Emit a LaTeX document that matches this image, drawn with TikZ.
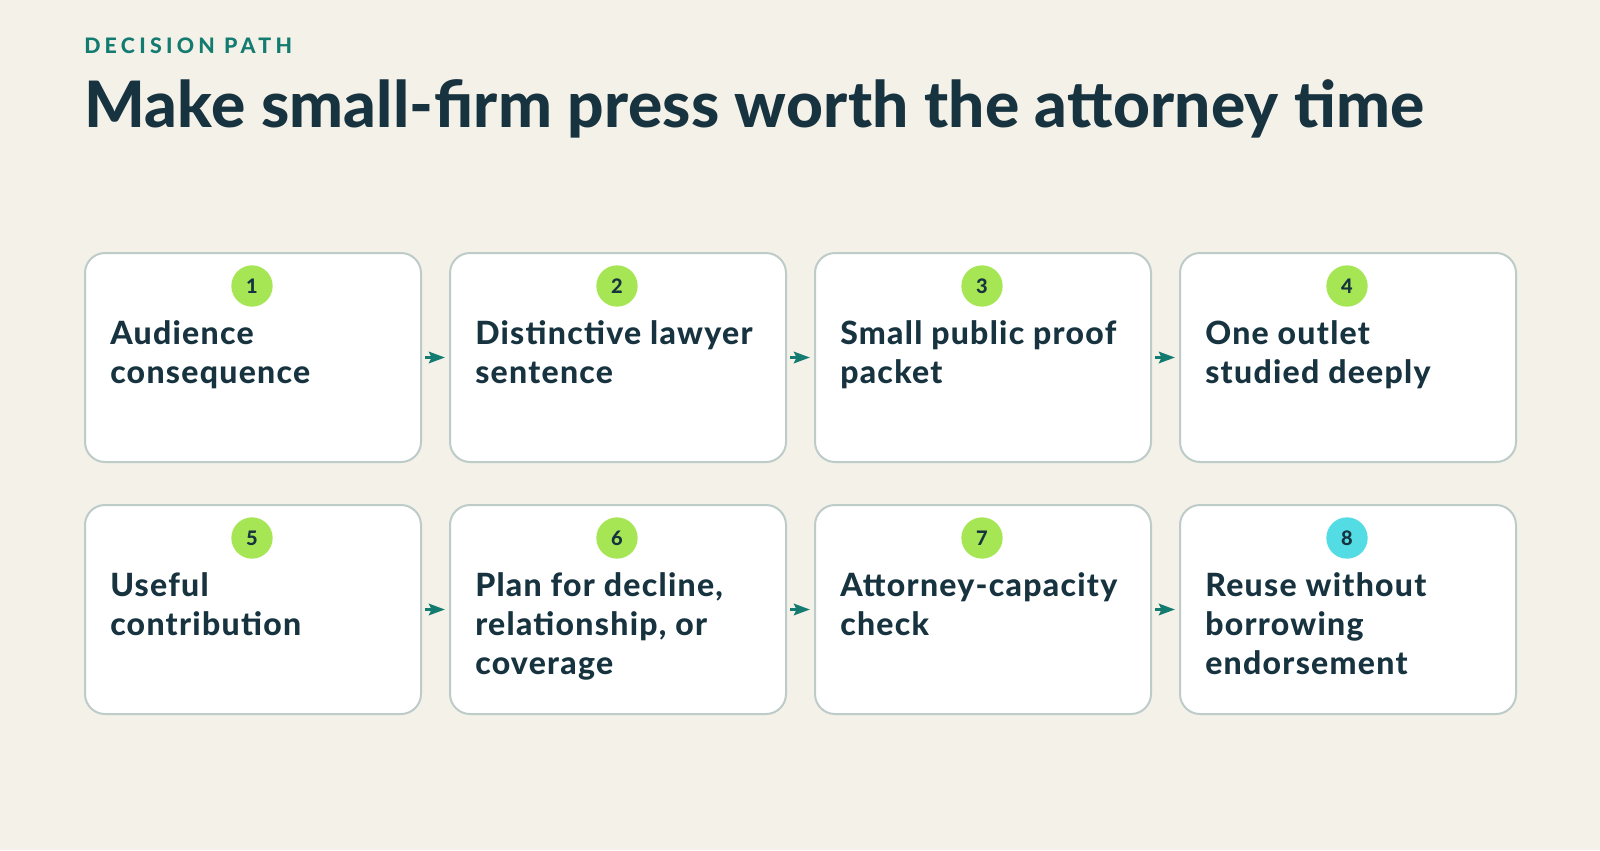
\documentclass[tikz,border=0pt]{standalone}
\usepackage{fontspec}
\setmainfont{Lato}[BoldFont={Lato Heavy}]
\usetikzlibrary{arrows.meta}
\definecolor{bgc}{HTML}{F4F1E9}
\definecolor{ink}{HTML}{17333F}
\definecolor{teal}{HTML}{137B70}
\definecolor{lime}{HTML}{A6E655}
\definecolor{cyanc}{HTML}{53DCE3}
\definecolor{edge}{HTML}{BDCCC8}
\tikzset{
  card/.style={draw=edge, line width=1.5pt, fill=white, rounded corners=15pt,
    minimum width=252pt, minimum height=156.75pt, inner sep=0pt, anchor=north west},
  badge/.style={circle, fill=lime, minimum size=31pt, inner sep=0pt,
    font=\fontsize{15}{15}\selectfont\bfseries, text=ink},
  label/.style={anchor=base west, inner sep=0pt, text=ink,
    font=\fontsize{24}{29.25}\selectfont\bfseries\addfontfeatures{LetterSpace=4}},
  flow/.style={draw=teal, line width=2.8pt, -{Stealth[length=12pt,width=8.5pt,inset=2pt]},
    shorten <=2.25pt, shorten >=3pt}
}
\newcommand{\lines}[1]{\begin{tabular}[t]{@{}l@{}}#1\end{tabular}}
\begin{document}
\begin{tikzpicture}[x=0.75pt,y=-0.75pt]
\fill[bgc] (0,0) rectangle (1600,850);
\useasboundingbox (0,0) rectangle (1600,850);
\node[anchor=base west, inner sep=0pt, text=teal,
  font=\fontsize{16}{16}\selectfont\bfseries\addfontfeatures{LetterSpace=20}] (kick) at (84,53) {DECISION PATH};
\node[anchor=base west, inner sep=0pt, text=ink,
  font=\fontsize{48}{48}\selectfont\bfseries\addfontfeatures{LetterSpace=0.4}] (title) at (84,127) {Make small-firm press worth the attorney time};
% row 1
\node[card] (b1) at (84,252) {};
\node[card] (b2) at (449,252) {};
\node[card] (b3) at (814,252) {};
\node[card] (b4) at (1179,252) {};
\node[card] (b5) at (84,504) {};
\node[card] (b6) at (449,504) {};
\node[card] (b7) at (814,504) {};
\node[card] (b8) at (1179,504) {};
\node[badge] (n1) at (252,286) {1};
\node[badge] (n2) at (617,286) {2};
\node[badge] (n3) at (982,286) {3};
\node[badge] (n4) at (1347,286) {4};
\node[badge] (n5) at (252,538) {5};
\node[badge] (n6) at (617,538) {6};
\node[badge] (n7) at (982,538) {7};
\node[badge, fill=cyanc] (n8) at (1347,538) {8};
\node[label] (t1) at (110,344) {\lines{Audience\\consequence}};
\node[label] (t2) at (475,344) {\lines{Distinctive lawyer\\sentence}};
\node[label] (t3) at (840,344) {\lines{Small public proof\\packet}};
\node[label] (t4) at (1205,344) {\lines{One outlet\\studied deeply}};
\node[label] (t5) at (110,596) {\lines{Useful\\contribution}};
\node[label] (t6) at (475,596) {\lines{Plan for decline,\\relationship, or\\coverage}};
\node[label] (t7) at (840,596) {\lines{Attorney-capacity\\check}};
\node[label] (t8) at (1205,596) {\lines{Reuse without\\borrowing\\endorsement}};
\draw[flow] (b1) -- (b2);
\draw[flow] (b2) -- (b3);
\draw[flow] (b3) -- (b4);
\draw[flow] (b5) -- (b6);
\draw[flow] (b6) -- (b7);
\draw[flow] (b7) -- (b8);
\end{tikzpicture}
\end{document}
